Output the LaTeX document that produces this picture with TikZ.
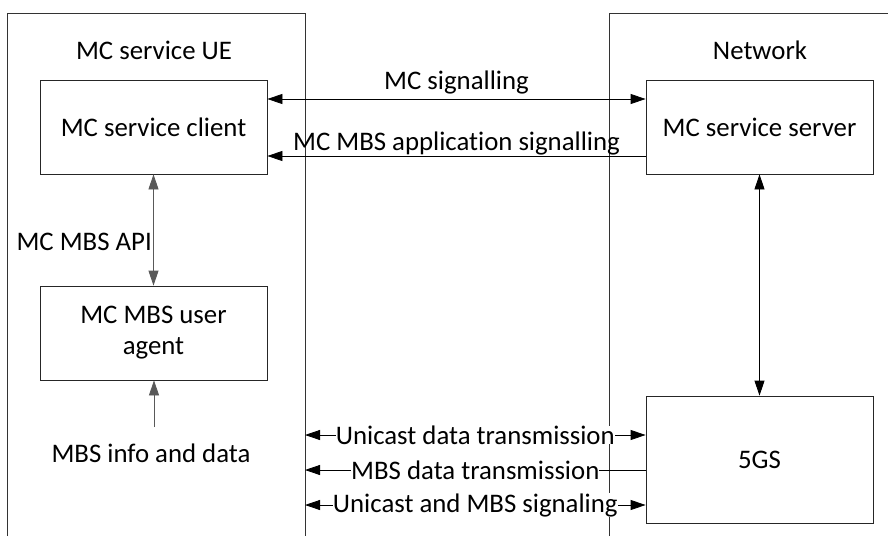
\documentclass[tikz,border=0pt]{standalone}
\usepackage{fontspec}
\setmainfont{Carlito}[Ligatures={NoCommon}]
\usetikzlibrary{arrows.meta,calc}
\begin{document}
\begin{tikzpicture}[x=1pt,y=-1pt,
  every node/.style={font=\fontsize{26.8}{31}\selectfont},
  box/.style={draw=black!85, line width=0.8pt, minimum width=227pt, minimum height=94pt, inner sep=0pt, align=center},
  frame/.style={draw=black!80, line width=0.8pt},
  arr/.style={line width=0.8pt, -{Triangle[length=15pt,width=10pt]}},
  darr/.style={line width=0.8pt, {Triangle[length=15pt,width=10pt]}-{Triangle[length=15pt,width=10pt]}},
  lbl/.style={fill=white, inner sep=0pt}]
\useasboundingbox (0,0) rectangle (888,536);
\fill[white] (0,0) rectangle (888,536);
% outer frames
\draw[frame] (7,536) -- (7,13) -- (305,13) -- (305,536);
\draw[frame] (609,536) -- (609,13) -- (888,13);
\coordinate (ueR) at (305,0);
\node (uelabel) at (154,50) {MC service UE};
\node (netlabel) at (760,50) {Network};
% boxes
\node[box] (client) at (153.5,127) {MC service client};
\node[box] (agent) at (153.5,333) {MC MBS user\\agent};
\node[box] (server) at (759.5,127) {MC service server};
\node[box, minimum height=127pt] (fivegs) at (759.5,459.5) {5GS};
% client <-> server
\draw[darr] ([yshift=28pt]client.east) -- ([yshift=28pt]server.west)
  node[midway, above=4pt, inner sep=0pt] (lsig) {MC signalling};
\draw[arr] ([yshift=-29pt]server.west) -- ([yshift=-29pt]client.east)
  node[midway, above=0pt, inner sep=0pt] (lapp) {MC MBS application signalling};
% client <-> agent
\draw[darr, draw=black!65] (client.south) -- (agent.south |- agent.north);
\node[anchor=east, inner sep=0pt] (api) at (152,242) {MC MBS API};
% info -> agent
\node[inner sep=0pt] (info) at (151,453) {MBS info and data};
\coordinate (infotop) at (154,427);
\draw[arr, draw=black!65] (infotop) -- (infotop |- agent.south);
% server <-> 5GS
\draw[darr] (server.south) -- (fivegs.north);
% 5GS connectors
\coordinate (g1) at ([yshift=24.5pt]fivegs.west);
\coordinate (g2) at ([yshift=-10.5pt]fivegs.west);
\coordinate (g3) at ([yshift=-45.5pt]fivegs.west);
\draw[darr] (ueR |- g1) -- (g1) node[midway, lbl] (l1) {Unicast data transmission};
\draw[arr] (g2) -- (ueR |- g2) node[midway, lbl] (l2) {MBS data transmission};
\draw[darr] (ueR |- g3) -- (g3) node[midway, lbl] (l3) {Unicast and MBS signaling};
\end{tikzpicture}
\end{document}
